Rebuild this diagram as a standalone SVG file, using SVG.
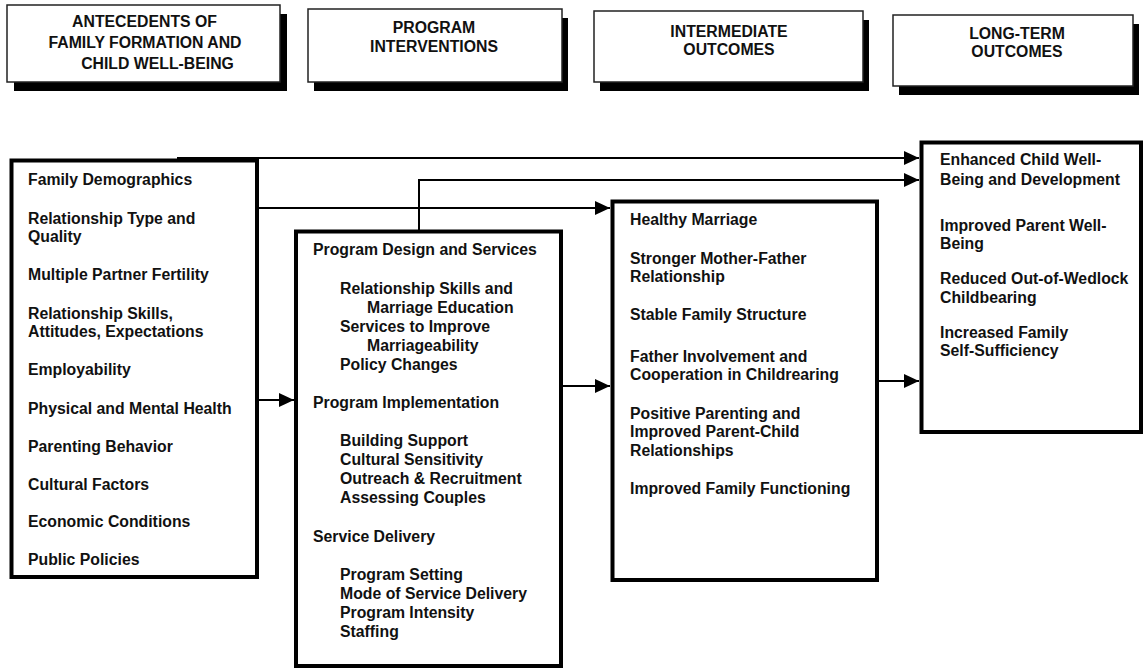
<svg xmlns="http://www.w3.org/2000/svg" width="1143" height="669" viewBox="0 0 1143 669">
<style>
.hdr{fill:#fff;stroke:#222;stroke-width:1.5}
.shd{fill:#000}
.box{fill:#fff;stroke:#000;stroke-width:4}
.ht{font-family:"Liberation Sans",Arial,sans-serif;font-weight:bold;font-size:15.8px;fill:#111;text-anchor:middle}
.t{font-family:"Liberation Sans",Arial,sans-serif;font-weight:bold;font-size:15.8px;fill:#111}
.c{fill:none;stroke:#000;stroke-width:2}
</style>
<defs>
<marker id="ah" markerUnits="userSpaceOnUse" markerWidth="15" markerHeight="14" refX="15" refY="7" orient="auto">
<path d="M0,0 L15,7 L0,14 z" fill="#000"/>
</marker>
</defs>
<rect width="1143" height="669" fill="#fff"/>

<g id="hdr-antecedents">
<rect class="shd" x="14" y="14" width="273" height="77"/>
<rect class="hdr" x="7" y="5" width="273" height="77"/>
<text class="ht" x="144.5" y="27">ANTECEDENTS OF</text>
<text class="ht" x="145" y="48">FAMILY FORMATION AND</text>
<text class="ht" x="157.5" y="69">CHILD WELL-BEING</text>
</g>
<g id="hdr-program">
<rect class="shd" x="314" y="18" width="254" height="73"/>
<rect class="hdr" x="308" y="9" width="254" height="73"/>
<text class="ht" x="434" y="33">PROGRAM</text>
<text class="ht" x="434" y="52">INTERVENTIONS</text>
</g>
<g id="hdr-intermediate">
<rect class="shd" x="600" y="20" width="269" height="71"/>
<rect class="hdr" x="594" y="11" width="269" height="71"/>
<text class="ht" x="729" y="37">INTERMEDIATE</text>
<text class="ht" x="729" y="55">OUTCOMES</text>
</g>
<g id="hdr-longterm">
<rect class="shd" x="899" y="24" width="240" height="71"/>
<rect class="hdr" x="893" y="15" width="240" height="71"/>
<text class="ht" x="1017" y="39">LONG-TERM</text>
<text class="ht" x="1017" y="57">OUTCOMES</text>
</g>

<g id="connectors">
<line class="c" x1="177" y1="158" x2="919" y2="158" marker-end="url(#ah)"/>
<polyline class="c" points="419,230 419,180 919,180" marker-end="url(#ah)"/>
<line class="c" x1="257" y1="208" x2="610" y2="208" marker-end="url(#ah)"/>
<line class="c" x1="252" y1="400" x2="294" y2="400" marker-end="url(#ah)"/>
<line class="c" x1="561" y1="386" x2="610" y2="386" marker-end="url(#ah)"/>
<line class="c" x1="877" y1="381" x2="919" y2="381" marker-end="url(#ah)"/>
</g>

<g id="antecedents">
<rect class="box" x="11.5" y="160.5" width="245.5" height="416.5"/>
<text class="t" x="28" y="185">Family Demographics</text>
<text class="t" x="28" y="223.5">Relationship Type and</text>
<text class="t" x="28" y="242">Quality</text>
<text class="t" x="28" y="280">Multiple Partner Fertility</text>
<text class="t" x="28" y="318.5">Relationship Skills,</text>
<text class="t" x="28" y="337">Attitudes, Expectations</text>
<text class="t" x="28" y="375">Employability</text>
<text class="t" x="28" y="413.5">Physical and Mental Health</text>
<text class="t" x="28" y="451.5">Parenting Behavior</text>
<text class="t" x="28" y="489.5">Cultural Factors</text>
<text class="t" x="28" y="527">Economic Conditions</text>
<text class="t" x="28" y="565">Public Policies</text>
</g>

<g id="interventions">
<rect class="box" x="296" y="231.5" width="265" height="434.5"/>
<text class="t" x="313" y="255">Program Design and Services</text>
<text class="t" x="340" y="294">Relationship Skills and</text>
<text class="t" x="367" y="313">Marriage Education</text>
<text class="t" x="340" y="332">Services to Improve</text>
<text class="t" x="367" y="351">Marriageability</text>
<text class="t" x="340" y="370">Policy Changes</text>
<text class="t" x="313" y="407.5">Program Implementation</text>
<text class="t" x="340" y="445.5">Building Support</text>
<text class="t" x="340" y="464.5">Cultural Sensitivity</text>
<text class="t" x="340" y="483.5">Outreach &amp; Recruitment</text>
<text class="t" x="340" y="502.5">Assessing Couples</text>
<text class="t" x="313" y="541.5">Service Delivery</text>
<text class="t" x="340" y="579.5">Program Setting</text>
<text class="t" x="340" y="598.5">Mode of Service Delivery</text>
<text class="t" x="340" y="617.5">Program Intensity</text>
<text class="t" x="340" y="636.5">Staffing</text>
</g>

<g id="intermediate">
<rect class="box" x="612.5" y="201.5" width="264.5" height="378.5"/>
<text class="t" x="630" y="225">Healthy Marriage</text>
<text class="t" x="630" y="263.5">Stronger Mother-Father</text>
<text class="t" x="630" y="282">Relationship</text>
<text class="t" x="630" y="320">Stable Family Structure</text>
<text class="t" x="630" y="361.5">Father Involvement and</text>
<text class="t" x="630" y="380">Cooperation in Childrearing</text>
<text class="t" x="630" y="418.5">Positive Parenting and</text>
<text class="t" x="630" y="437">Improved Parent-Child</text>
<text class="t" x="630" y="455.5">Relationships</text>
<text class="t" x="630" y="494">Improved Family Functioning</text>
</g>

<g id="longterm">
<rect class="box" x="921.5" y="142.5" width="219.5" height="289.5"/>
<text class="t" x="940" y="165">Enhanced Child Well-</text>
<text class="t" x="940" y="184.5">Being and Development</text>
<text class="t" x="940" y="230.5">Improved Parent Well-</text>
<text class="t" x="940" y="249">Being</text>
<text class="t" x="940" y="284">Reduced Out-of-Wedlock</text>
<text class="t" x="940" y="303">Childbearing</text>
<text class="t" x="940" y="337.5">Increased Family</text>
<text class="t" x="940" y="356">Self-Sufficiency</text>
</g>
</svg>
